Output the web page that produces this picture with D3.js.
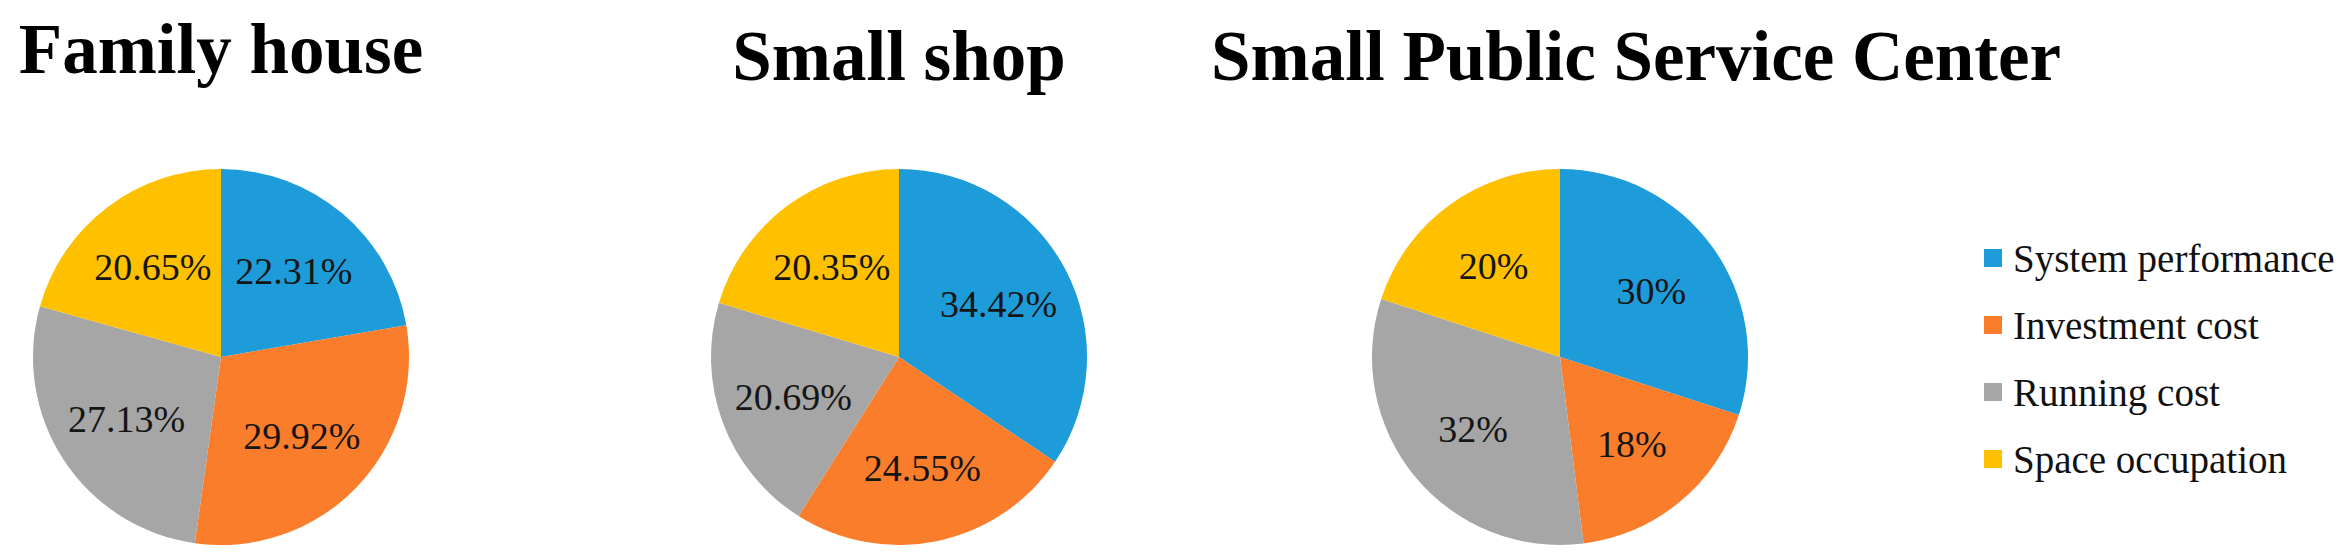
<!DOCTYPE html>
<html>
<head>
<meta charset="utf-8">
<script src="https://cdn.jsdelivr.net/npm/d3@7"></script>
<style>
  html, body { margin: 0; padding: 0; background: #fff; }
  svg { display: block; }
</style>
</head>
<body>
<div class="d3-wrapper"></div>
<script>
// Data
const categories = ['System performance', 'Investment cost', 'Running cost', 'Space occupation'];
const buildings = ['Family house', 'Small shop', 'Small Public Service Center'];
const familyHouse = [22.31, 29.92, 27.13, 20.65];
const smallShop = [34.42, 24.55, 20.69, 20.35];
const publicCenter = [30, 18, 32, 20];
const labelText = [
  ['22.31%', '29.92%', '27.13%', '20.65%'],
  ['34.42%', '24.55%', '20.69%', '20.35%'],
  ['30%', '18%', '32%', '20%']
];

const colors = ['#1e9bd9', '#fa7d2b', '#a6a6a6', '#ffc000'];

const WIDTH = 2346,
  HEIGHT = 554;
const RADIUS = 188;
const PIE_CY = 357;
const PIE_CX = [221, 899, 1560];
const TITLE_X = [221, 899, 1636];
const TITLE_Y = [73, 80, 80];
const LEGEND = { x: 1984, y: 249, size: 18, step: 67, textX: 2013 };

const svg = d3.select('.d3-wrapper').append('svg')
  .attr('width', WIDTH)
  .attr('height', HEIGHT);

const color = d3.scaleOrdinal().domain(categories).range(colors);

const pie = d3.pie()
  .sort(null)
  .value(d => d.value);

const arc = d3.arc()
  .innerRadius(0)
  .outerRadius(RADIUS);

const labelArc = d3.arc()
  .innerRadius(RADIUS * 0.6)
  .outerRadius(RADIUS * 0.6);

[familyHouse, smallShop, publicCenter].forEach((series, k) => {
  const data = series.map((v, i) => ({ key: categories[i], value: v, label: labelText[k][i] }));

  svg.append('text')
    .attr('x', TITLE_X[k])
    .attr('y', TITLE_Y[k])
    .attr('text-anchor', 'middle')
    .style('font-family', '"Liberation Serif", "Times New Roman", serif')
    .style('font-weight', 'bold')
    .style('font-size', '71px')
    .text(buildings[k]);

  const g = svg.append('g')
    .attr('transform', `translate(${PIE_CX[k]}, ${PIE_CY})`);

  const slices = pie(data);

  g.selectAll('path')
    .data(slices)
    .enter()
    .append('path')
    .attr('d', arc)
    .style('fill', d => color(d.data.key));

  g.selectAll('text')
    .data(slices)
    .enter()
    .append('text')
    .attr('transform', d => `translate(${labelArc.centroid(d)})`)
    .attr('text-anchor', 'middle')
    .attr('dy', '0.35em')
    .style('font-family', '"Liberation Serif", "Times New Roman", serif')
    .style('font-size', '38px')
    .style('fill', '#151515')
    .text(d => d.data.label);
});

// Legend
const legend = svg.append('g');

legend.selectAll('rect')
  .data(categories)
  .enter()
  .append('rect')
  .attr('x', LEGEND.x)
  .attr('y', (d, i) => LEGEND.y + i * LEGEND.step)
  .attr('width', LEGEND.size)
  .attr('height', LEGEND.size)
  .style('fill', d => color(d));

legend.selectAll('text')
  .data(categories)
  .enter()
  .append('text')
  .attr('x', LEGEND.textX)
  .attr('y', (d, i) => LEGEND.y + i * LEGEND.step + LEGEND.size / 2)
  .attr('dy', '0.35em')
  .style('font-family', '"Liberation Serif", "Times New Roman", serif')
  .style('font-size', '39px')
  .style('fill', '#111')
  .text(d => d);
</script>
</body>
</html>
